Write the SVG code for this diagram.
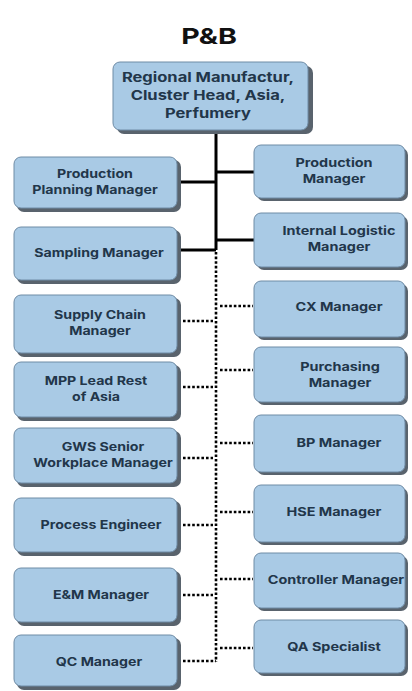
<svg xmlns="http://www.w3.org/2000/svg" width="412" height="691" viewBox="0 0 412 691">
  <style>
    .box { fill: #a9cae5; stroke: #6f8ca6; stroke-width: 1; }
    .shadow { fill: #59636d; }
    .lbl { font-family: Inter, "Liberation Sans", sans-serif; font-weight: 700; font-size: 12px; fill: #22364a; text-anchor: middle; }
    .big { font-size: 13px; }
    .title { font-family: Inter, "Liberation Sans", sans-serif; font-weight: 700; font-size: 22px; fill: #111; text-anchor: middle; }
    .solid { stroke: #000; stroke-width: 3; fill: none; }
    .dot { stroke: #000; stroke-width: 2.6; stroke-dasharray: 2.6 2; fill: none; }
  </style>

  <rect width="412" height="691" fill="#ffffff"/>

  <text class="title" transform="translate(209,44) scale(1.3,1)">P&amp;B</text>

  <!-- reporting lines -->
  <g id="connectors">
    <path class="solid" d="M216 130 V250"/>
    <path class="solid" d="M179 182 H216"/>
    <path class="solid" d="M180 250 H216"/>
    <path class="solid" d="M216 172 H254"/>
    <path class="solid" d="M216 240 H254"/>
    <path class="dot" d="M216 252 V662"/>
    <path class="dot" d="M183 321 H213"/>
    <path class="dot" d="M183 387 H213"/>
    <path class="dot" d="M183 458 H213"/>
    <path class="dot" d="M183 525 H213"/>
    <path class="dot" d="M183 595 H213"/>
    <path class="dot" d="M183 661 H216"/>
    <path class="dot" d="M220 306 H253"/>
    <path class="dot" d="M220 370 H253"/>
    <path class="dot" d="M220 443 H253"/>
    <path class="dot" d="M220 512 H253"/>
    <path class="dot" d="M220 579 H253"/>
    <path class="dot" d="M220 648 H253"/>
  </g>

  <!-- head -->
  <g id="head">
    <rect class="shadow" x="117" y="66" width="196" height="68" rx="7"/>
    <rect class="box" x="113" y="62" width="195" height="68" rx="7"/>
    <text class="lbl big" transform="translate(208,82) scale(1.27,1)">Regional Manufactur,</text>
    <text class="lbl big" transform="translate(208,100) scale(1.27,1)">Cluster Head, Asia,</text>
    <text class="lbl big" transform="translate(208,118) scale(1.27,1)">Perfumery</text>
  </g>

  <!-- left column -->
  <g id="production-planning">
    <rect class="shadow" x="17" y="160" width="164" height="52" rx="7"/>
    <rect class="box" x="14" y="157" width="163" height="51" rx="7"/>
    <text class="lbl" transform="translate(95,178) scale(1.18,1)">Production</text>
    <text class="lbl" transform="translate(95,194) scale(1.18,1)">Planning Manager</text>
  </g>
  <g id="sampling">
    <rect class="shadow" x="17" y="230" width="164" height="54" rx="7"/>
    <rect class="box" x="14" y="227" width="163" height="53" rx="7"/>
    <text class="lbl" transform="translate(99,257) scale(1.18,1)">Sampling Manager</text>
  </g>
  <g id="supply-chain">
    <rect class="shadow" x="17" y="298" width="164" height="59" rx="7"/>
    <rect class="box" x="14" y="295" width="163" height="58" rx="7"/>
    <text class="lbl" transform="translate(100,319) scale(1.18,1)">Supply Chain</text>
    <text class="lbl" transform="translate(100,335) scale(1.18,1)">Manager</text>
  </g>
  <g id="mpp-lead">
    <rect class="shadow" x="17" y="365" width="164" height="56" rx="7"/>
    <rect class="box" x="14" y="362" width="163" height="55" rx="7"/>
    <text class="lbl" transform="translate(96,385) scale(1.18,1)">MPP Lead Rest</text>
    <text class="lbl" transform="translate(96,401) scale(1.18,1)">of Asia</text>
  </g>
  <g id="gws-senior">
    <rect class="shadow" x="17" y="431" width="164" height="56" rx="7"/>
    <rect class="box" x="14" y="428" width="163" height="55" rx="7"/>
    <text class="lbl" transform="translate(103,451) scale(1.18,1)">GWS Senior</text>
    <text class="lbl" transform="translate(103,467) scale(1.18,1)">Workplace Manager</text>
  </g>
  <g id="process-engineer">
    <rect class="shadow" x="17" y="501" width="164" height="55" rx="7"/>
    <rect class="box" x="14" y="498" width="163" height="54" rx="7"/>
    <text class="lbl" transform="translate(101,529) scale(1.18,1)">Process Engineer</text>
  </g>
  <g id="em-manager">
    <rect class="shadow" x="17" y="571" width="164" height="55" rx="7"/>
    <rect class="box" x="14" y="568" width="163" height="54" rx="7"/>
    <text class="lbl" transform="translate(101,599) scale(1.18,1)">E&amp;M Manager</text>
  </g>
  <g id="qc-manager">
    <rect class="shadow" x="17" y="638" width="164" height="52" rx="7"/>
    <rect class="box" x="14" y="635" width="163" height="51" rx="7"/>
    <text class="lbl" transform="translate(99,666) scale(1.18,1)">QC Manager</text>
  </g>

  <!-- right column -->
  <g id="production-manager">
    <rect class="shadow" x="257" y="148" width="151" height="53" rx="7"/>
    <rect class="box" x="254" y="145" width="151" height="53" rx="7"/>
    <text class="lbl" transform="translate(334,167) scale(1.2,1)">Production</text>
    <text class="lbl" transform="translate(334,183) scale(1.2,1)">Manager</text>
  </g>
  <g id="internal-logistic">
    <rect class="shadow" x="257" y="216" width="151" height="54" rx="7"/>
    <rect class="box" x="254" y="213" width="151" height="54" rx="7"/>
    <text class="lbl" transform="translate(339,235) scale(1.2,1)">Internal Logistic</text>
    <text class="lbl" transform="translate(339,251) scale(1.2,1)">Manager</text>
  </g>
  <g id="cx-manager">
    <rect class="shadow" x="257" y="284" width="151" height="56" rx="7"/>
    <rect class="box" x="254" y="281" width="151" height="56" rx="7"/>
    <text class="lbl" transform="translate(339,311) scale(1.2,1)">CX Manager</text>
  </g>
  <g id="purchasing">
    <rect class="shadow" x="257" y="350" width="151" height="55" rx="7"/>
    <rect class="box" x="254" y="347" width="151" height="55" rx="7"/>
    <text class="lbl" transform="translate(340,371) scale(1.2,1)">Purchasing</text>
    <text class="lbl" transform="translate(340,387) scale(1.2,1)">Manager</text>
  </g>
  <g id="bp-manager">
    <rect class="shadow" x="257" y="418" width="151" height="57" rx="7"/>
    <rect class="box" x="254" y="415" width="151" height="57" rx="7"/>
    <text class="lbl" transform="translate(339,447) scale(1.2,1)">BP Manager</text>
  </g>
  <g id="hse-manager">
    <rect class="shadow" x="257" y="488" width="151" height="57" rx="7"/>
    <rect class="box" x="254" y="485" width="151" height="57" rx="7"/>
    <text class="lbl" transform="translate(334,516) scale(1.2,1)">HSE Manager</text>
  </g>
  <g id="controller-manager">
    <rect class="shadow" x="257" y="556" width="151" height="55" rx="7"/>
    <rect class="box" x="254" y="553" width="151" height="55" rx="7"/>
    <text class="lbl" transform="translate(336,584) scale(1.2,1)">Controller Manager</text>
  </g>
  <g id="qa-specialist">
    <rect class="shadow" x="257" y="623" width="151" height="53" rx="7"/>
    <rect class="box" x="254" y="620" width="151" height="53" rx="7"/>
    <text class="lbl" transform="translate(334,651) scale(1.2,1)">QA Specialist</text>
  </g>
</svg>
